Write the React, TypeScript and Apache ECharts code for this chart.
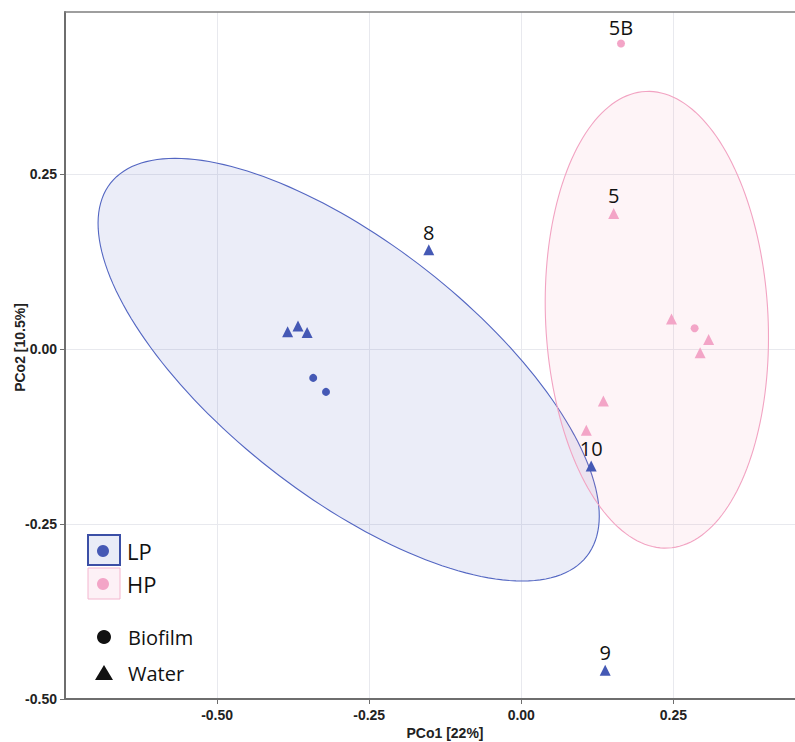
import React, { useEffect, useRef } from "react";
import * as echarts from "echarts";

// Axis tick values
const xTicks = [-0.5, -0.25, 0, 0.25];
const yTicks = [-0.5, -0.25, 0, 0.25];

// LP samples
const lpBiofilm: number[][] = [[-0.342, -0.041], [-0.321, -0.061]];
const lpBiofilmLabels = ["", ""];
const lpWater: number[][] = [
  [-0.384, 0.025], [-0.367, 0.033], [-0.352, 0.024],
  [-0.152, 0.142], [0.115, -0.167], [0.138, -0.459],
];
const lpWaterLabels = ["", "", "", "8", "10", "9"];

// HP samples
const hpBiofilm: number[][] = [[0.164, 0.437], [0.285, 0.030]];
const hpBiofilmLabels = ["5B", ""];
const hpWater: number[][] = [
  [0.152, 0.194], [0.135, -0.074], [0.107, -0.116],
  [0.247, 0.043], [0.308, 0.014], [0.294, -0.005],
];
const hpWaterLabels = ["5", "", "", "", "", ""];

// Ellipses: centre and two conjugate semi-diameters (data units)
const lpEllipseCenter = [-0.2837, -0.0293];
const lpEllipseAxisA = [0.3915, -0.2666];
const lpEllipseAxisB = [-0.1282, -0.142];
const hpEllipseCenter = [0.2229, 0.0421];
const hpEllipseAxisA = [0.0184, -0.3263];
const hpEllipseAxisB = [-0.1826, -0.0077];

const BLUE = "#4559b5";
const PINK = "#f3a5c7";
const LABEL_FONT = "'Open Sans', 'Noto Sans', sans-serif";
const AXIS_FONT = "'Liberation Sans', Arial, sans-serif";

function ellipseSeries(center: number[], a: number[], b: number[], stroke: string, fill: string) {
  return {
    type: "custom",
    silent: true,
    z: 1,
    data: [center],
    renderItem: (_params: any, api: any) => {
      const pts: number[][] = [];
      const n = 180;
      for (let i = 0; i < n; i++) {
        const t = (i / n) * Math.PI * 2;
        const x = center[0] + Math.cos(t) * a[0] + Math.sin(t) * b[0];
        const y = center[1] + Math.cos(t) * a[1] + Math.sin(t) * b[1];
        pts.push(api.coord([x, y]));
      }
      return {
        type: "polygon",
        shape: { points: pts },
        style: { fill, stroke, lineWidth: 1.1 },
      };
    },
  };
}

function scatterSeries(name: string, pts: number[][], labels: string[], symbol: string, size: number, color: string) {
  return {
    name,
    type: "scatter",
    symbol,
    symbolSize: size,
    z: 3,
    itemStyle: { color, opacity: 1 },
    data: pts.map((p, i) =>
      labels[i]
        ? {
            value: p,
            label: {
              show: true,
              position: "top",
              distance: 2,
              formatter: labels[i],
              fontFamily: LABEL_FONT,
              fontSize: 20,
              color: "#111",
            },
          }
        : { value: p }
    ),
  };
}

export default function App() {
  const ref = useRef<HTMLDivElement>(null);
  useEffect(() => {
    if (!ref.current) return;
    const chart = echarts.init(ref.current, undefined, { renderer: "svg" });
    const splitStyle = { show: true, lineStyle: { color: "#e8e9ee", width: 1 } };
    const option: any = {
      animation: false,
      backgroundColor: "#ffffff",
      grid: {
        left: 65,
        right: 0,
        top: 12,
        bottom: 43,
        show: false,
        outerBoundsMode: "none",
        containLabel: false,
      },
      xAxis: [
        {
          type: "value",
          min: -0.75,
          max: 0.45,
          interval: 0.125,
          name: "PCo1 [22%]",
          nameLocation: "middle",
          nameGap: 27,
          nameMoveOverlap: false,
          nameTextStyle: {
            fontFamily: AXIS_FONT,
            fontWeight: "bold",
            fontSize: 14,
            color: "#222",
            padding: [0, 0, 0, 30],
          },
          axisLine: { show: true, onZero: false, lineStyle: { color: "#6e6e6e", width: 2 } },
          axisTick: { show: true, length: 5, customValues: xTicks, lineStyle: { color: "#6e6e6e" } },
          axisLabel: {
            customValues: xTicks,
            formatter: (v: number) => v.toFixed(2),
            fontFamily: AXIS_FONT,
            fontWeight: "bold",
            fontSize: 14,
            color: "#222",
            margin: 9,
          },
          splitLine: splitStyle,
        },
        {
          type: "value",
          position: "top",
          min: -0.75,
          max: 0.45,
          interval: 0.125,
          axisLine: { show: true, onZero: false, lineStyle: { color: "#7f7f7f", width: 1.5 } },
          axisTick: { show: false },
          axisLabel: { show: false },
          splitLine: { show: false },
        },
      ],
      yAxis: {
        type: "value",
        min: -0.5,
        max: 0.482,
        interval: 0.125,
        name: "PCo2 [10.5%]",
        nameLocation: "middle",
        nameGap: 38,
        nameMoveOverlap: false,
        nameTextStyle: {
          fontFamily: AXIS_FONT,
          fontWeight: "bold",
          fontSize: 14,
          color: "#222",
          padding: [0, 0, 0, 16],
        },
        axisLine: { show: true, onZero: false, lineStyle: { color: "#6e6e6e", width: 2 } },
        axisTick: { show: true, length: 5, customValues: yTicks, lineStyle: { color: "#6e6e6e" } },
        axisLabel: {
          customValues: yTicks,
          formatter: (v: number) => v.toFixed(2),
          fontFamily: AXIS_FONT,
          fontWeight: "bold",
          fontSize: 14,
          color: "#222",
          margin: 8,
        },
        splitLine: splitStyle,
      },
      series: [
        ellipseSeries(lpEllipseCenter, lpEllipseAxisA, lpEllipseAxisB, "#5366c2", "rgba(70,95,190,0.11)"),
        ellipseSeries(hpEllipseCenter, hpEllipseAxisA, hpEllipseAxisB, "#f2a3c2", "rgba(244,143,177,0.1)"),
        scatterSeries("LP Biofilm", lpBiofilm, lpBiofilmLabels, "circle", 8, BLUE),
        scatterSeries("LP Water", lpWater, lpWaterLabels, "triangle", 11, BLUE),
        scatterSeries("HP Biofilm", hpBiofilm, hpBiofilmLabels, "circle", 8, PINK),
        scatterSeries("HP Water", hpWater, hpWaterLabels, "triangle", 11, PINK),
      ],
      graphic: [
        { type: "rect", shape: { x: 88, y: 535, width: 32, height: 30 }, style: { fill: "#e9ecf7", stroke: "#3b4fa6", lineWidth: 2 }, z: 10 },
        { type: "circle", shape: { cx: 103, cy: 551, r: 6 }, style: { fill: BLUE }, z: 11 },
        { type: "text", x: 127, y: 551, style: { text: "LP", fontFamily: LABEL_FONT, fontSize: 22, fill: "#111", verticalAlign: "middle" }, z: 11 },
        { type: "rect", shape: { x: 88, y: 568, width: 32, height: 31 }, style: { fill: "#fdf1f6", stroke: "#f3b6cf", lineWidth: 1 }, z: 10 },
        { type: "circle", shape: { cx: 103, cy: 584, r: 6 }, style: { fill: PINK }, z: 11 },
        { type: "text", x: 127, y: 584, style: { text: "HP", fontFamily: LABEL_FONT, fontSize: 22, fill: "#111", verticalAlign: "middle" }, z: 11 },
        { type: "circle", shape: { cx: 104, cy: 637, r: 7 }, style: { fill: "#111" }, z: 11 },
        { type: "text", x: 128, y: 637, style: { text: "Biofilm", fontFamily: LABEL_FONT, fontSize: 20, fill: "#111", verticalAlign: "middle" }, z: 11 },
        { type: "polygon", shape: { points: [[95, 680], [113, 680], [104, 665]] }, style: { fill: "#111" }, z: 11 },
        { type: "text", x: 128, y: 673, style: { text: "Water", fontFamily: LABEL_FONT, fontSize: 20, fill: "#111", verticalAlign: "middle" }, z: 11 },
      ],
    };
    chart.setOption(option);
    return () => chart.dispose();
  }, []);
  return (
    <div
      ref={ref}
      style={{ position: "absolute", left: 0, top: 0, width: 795, height: 742 }}
    />
  );
}
